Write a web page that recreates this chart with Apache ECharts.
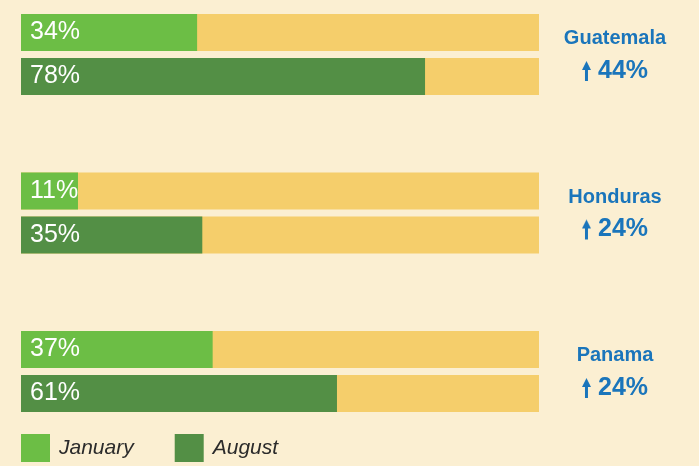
<!DOCTYPE html>
<html>
<head>
<meta charset="utf-8">
<script src="https://cdn.jsdelivr.net/npm/echarts@6/dist/echarts.min.js"></script>
<style>
html,body{margin:0;padding:0;background:#FBEFD2;}
#chart{width:699px;height:466px;}
</style>
</head>
<body>
<div id="chart"></div>
<script>
var countries = ['Guatemala', 'Honduras', 'Panama'];
var january = [34, 11, 37];
var august = [78, 35, 61];
var change = [44, 24, 24];

// small filled up-arrow glyph used inside the rich-text labels
var arrowCanvas = document.createElement('canvas');
arrowCanvas.width = 9;
arrowCanvas.height = 20;
(function () {
  var c = arrowCanvas.getContext('2d');
  c.fillStyle = '#1A75BB';
  c.beginPath();
  c.moveTo(4.5, 0);
  c.lineTo(9, 9);
  c.lineTo(6, 9);
  c.lineTo(6, 20);
  c.lineTo(3, 20);
  c.lineTo(3, 9);
  c.lineTo(0, 9);
  c.closePath();
  c.fill();
})();

var chart = echarts.init(document.getElementById('chart'));
var labelStyle = {
  show: true,
  position: 'insideLeft',
  distance: 9,
  color: '#ffffff',
  fontSize: 25,
  fontFamily: 'Liberation Sans, Arial, sans-serif',
  formatter: '{c}%'
};
chart.setOption({
  backgroundColor: '#FBEFD2',
  animation: false,
  grid: { left: 21, right: 160, top: 54.5, bottom: 466 - 371.5 },
  xAxis: { type: 'value', min: 0, max: 100, show: false },
  yAxis: {
    type: 'category',
    data: countries,
    inverse: true,
    position: 'right',
    boundaryGap: false,
    axisLine: { show: false },
    axisTick: { show: false },
    splitLine: { show: false },
    axisLabel: {
      margin: 76,
      align: 'center',
      formatter: function (v, i) {
        return '{n|' + v + '}\n{a|}{p|' + change[i] + '%}';
      },
      rich: {
        n: { color: '#1A75BB', fontSize: 20, fontWeight: 'bold', fontFamily: 'Liberation Sans, Arial, sans-serif', lineHeight: 33 },
        a: { width: 9, height: 20, backgroundColor: { image: arrowCanvas }, lineHeight: 32 },
        p: { color: '#1A75BB', fontSize: 25, fontWeight: 'bold', fontFamily: 'Liberation Sans, Arial, sans-serif', lineHeight: 32, padding: [0, 0, 0, 7] }
      }
    }
  },
  legend: {
    left: 21,
    top: 434,
    padding: 0,
    itemWidth: 29,
    itemHeight: 28,
    itemGap: 41,
    icon: 'rect',
    data: ['January', 'August'],
    textStyle: { fontSize: 21, fontStyle: 'italic', color: '#2b2b2b', fontFamily: 'Liberation Sans, Arial, sans-serif', padding: [0, 0, 0, 4] }
  },
  series: [
    {
      name: 'January',
      type: 'bar',
      data: january,
      barWidth: 37,
      barGap: '18.92%',
      itemStyle: { color: '#6CBE45' },
      showBackground: true,
      backgroundStyle: { color: '#F5CE6B' },
      label: labelStyle
    },
    {
      name: 'August',
      type: 'bar',
      data: august,
      barWidth: 37,
      barGap: '18.92%',
      itemStyle: { color: '#538F45' },
      showBackground: true,
      backgroundStyle: { color: '#F5CE6B' },
      label: labelStyle
    }
  ]
});
</script>
</body>
</html>
